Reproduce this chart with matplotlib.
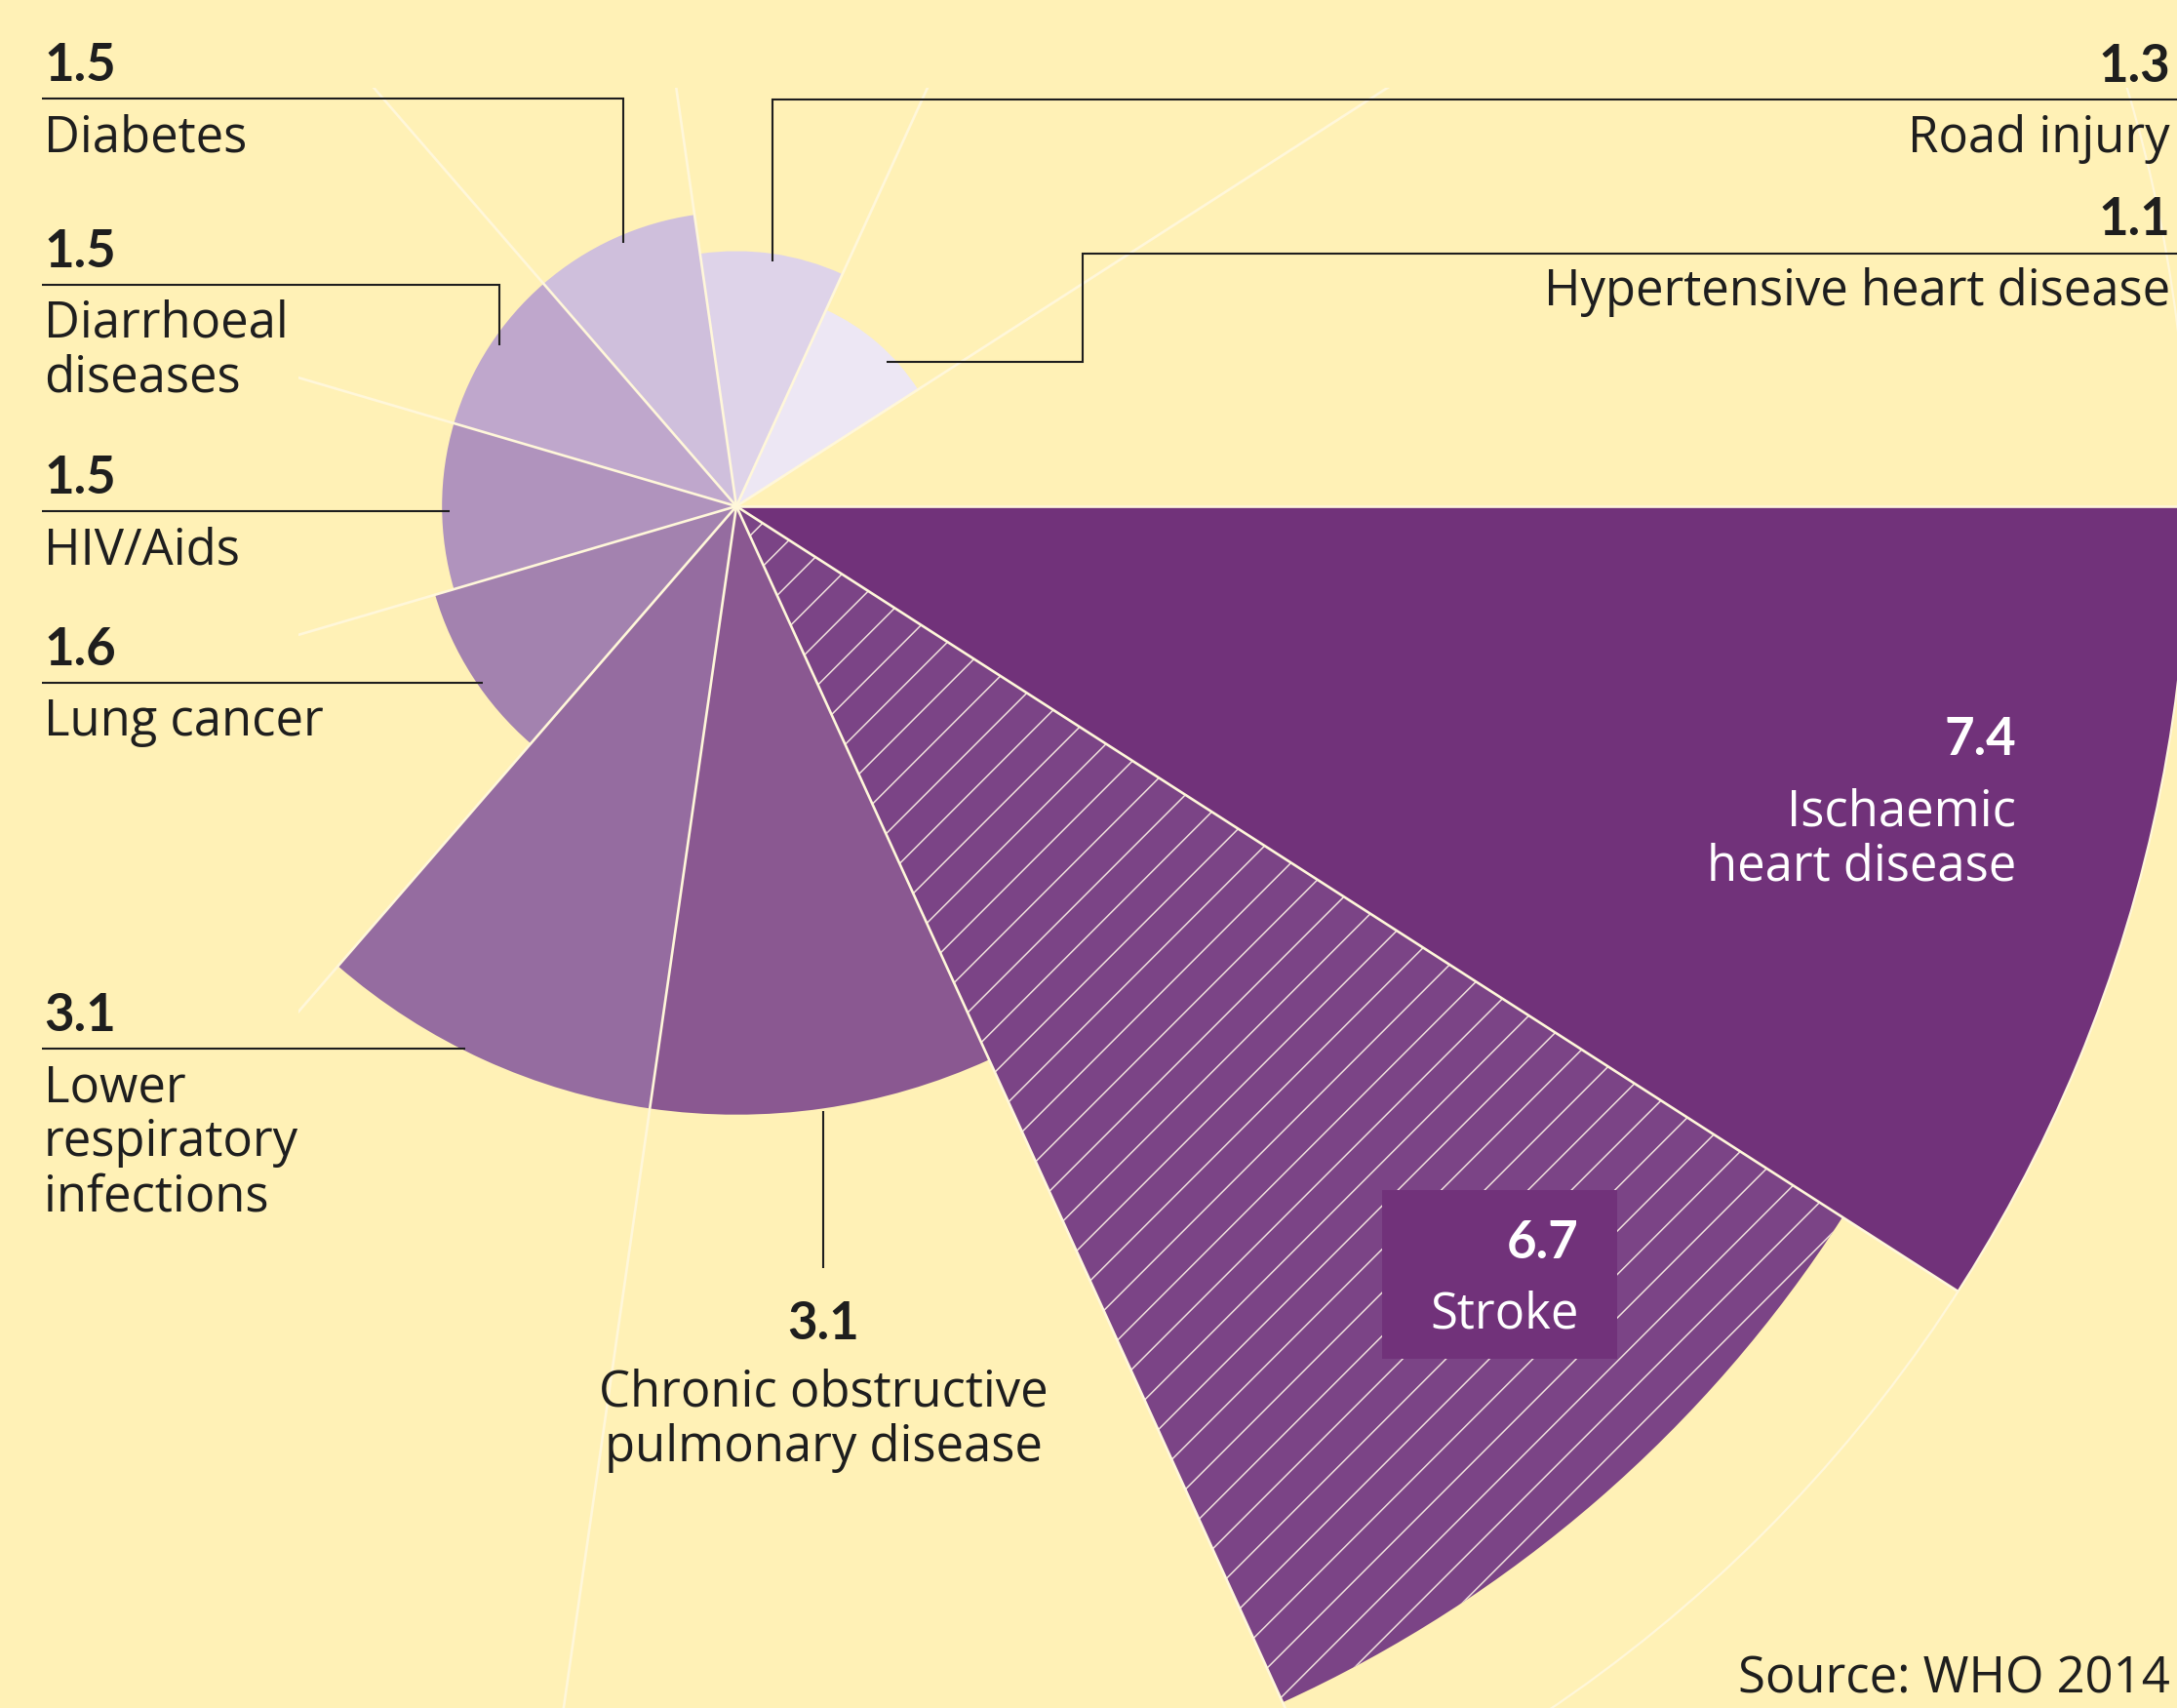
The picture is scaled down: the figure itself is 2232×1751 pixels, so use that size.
import numpy as np
import matplotlib
matplotlib.use("Agg")
import matplotlib.pyplot as plt
from matplotlib.lines import Line2D
from matplotlib.patches import Rectangle
from matplotlib.transforms import Bbox, TransformedBbox, IdentityTransform, TransformedPatchPath

# ---------------- data ----------------
causes = ["Ischaemic heart disease", "Stroke", "Chronic obstructive pulmonary disease",
          "Lower respiratory infections", "Lung cancer", "HIV/Aids",
          "Diarrhoeal diseases", "Diabetes", "Road injury", "Hypertensive heart disease"]
deaths = [7.4, 6.7, 3.1, 3.1, 1.6, 1.5, 1.5, 1.5, 1.3, 1.1]   # millions
value_labels = ["7.4", "6.7", "3.1", "3.1", "1.6", "1.5", "1.5", "1.5", "1.3", "1.1"]
label_lines = [["Ischaemic", "heart disease"], ["Stroke"],
               ["Chronic obstructive", "pulmonary disease"],
               ["Lower", "respiratory", "infections"], ["Lung cancer"], ["HIV/Aids"],
               ["Diarrhoeal", "diseases"], ["Diabetes"], ["Road injury"],
               ["Hypertensive heart disease"]]
n_slots = 11  # ten causes + one empty slot

# ---------------- style ----------------
colors = ["#71327A", "#7B4486", "#8A5891", "#956CA0", "#A382AF", "#B093BD",
          "#BFA7CC", "#CFBFDC", "#DED3E9", "#EDE7F4"]
BG = "#FFF1B6"
GRID = "#FFF7DA"
HATCH = "#EFDFDC"
INK = "#1E1E1E"
FONT_NUM = "Lato"
FONT_TXT = "Open Sans"
W, H, DPI = 2232, 1751, 100

fig = plt.figure(figsize=(W / DPI, H / DPI), dpi=DPI, facecolor=BG)

cx, cy = 755, H - 519           # centre of the rose in display pixels
px_per_unit = 201.2
rmax = max(deaths)
R = rmax * px_per_unit
ax = fig.add_axes([(cx - R) / W, (cy - R) / H, 2 * R / W, 2 * R / H], projection="polar")
ax.set_theta_zero_location("E")
ax.set_theta_direction(-1)
ax.set_facecolor("none")
ax.set_xticks([])
ax.set_yticks([])
ax.grid(False)

slot = 2 * np.pi / n_slots
theta = np.arange(len(deaths)) * slot
bars = ax.bar(theta, deaths, width=slot, align="edge", color=colors, linewidth=0, zorder=1)
ax.set_ylim(0, rmax)
ax.apply_aspect()

clipbox = TransformedBbox(Bbox.from_extents(306, -5, W + 5, H - 90), IdentityTransform())

# outer ring (at the largest value)
sp = ax.spines["polar"]
sp.set_color(GRID)
sp.set_linewidth(1.6)
sp.set_clip_on(True)
sp.set_clip_box(clipbox)
for k in ("start", "end", "inner"):
    if k in ax.spines:
        ax.spines[k].set_visible(False)

# hatch on the stroke wedge
hatch_clip = TransformedPatchPath(bars[1])
spacing, c0 = 44.5, -145.7
for k in range(-60, 20):
    c = c0 + k * spacing
    ln = Line2D([0, W], [c, W + c], transform=IdentityTransform(), color=HATCH,
                lw=1.1, zorder=2)
    ax.add_artist(ln)
    ln.set_clip_path(hatch_clip)

# radial separators
for t in np.arange(n_slots) * slot:
    ln, = ax.plot([t, t], [0, rmax], color=GRID, lw=1.9, solid_capstyle="butt", zorder=3)
    ln.set_clip_box(clipbox)


def anchor(i, theta_deg, inset=0.04):
    x, y = ax.transData.transform((np.deg2rad(theta_deg), deaths[i] - inset))
    return x, H - y


def leader(points):
    xs = [p[0] for p in points]
    ys = [H - p[1] for p in points]
    fig.add_artist(Line2D(xs, ys, transform=IdentityTransform(), color=INK, lw=1.5,
                          solid_capstyle="butt", solid_joinstyle="miter", zorder=5))


def txt(x, y, s, ha="left", bold=False, color=INK):
    fig.text(x / W, 1 - y / H, s, ha=ha, va="baseline", color=color,
             family=FONT_NUM if bold else FONT_TXT,
             fontsize=38 if bold else 36.5, fontweight="bold" if bold else "normal", zorder=7)


def block(i, x, num_y, ha="left", color=INK, gap=72, step=56):
    txt(x, num_y, value_labels[i], ha=ha, bold=True, color=color)
    for j, s in enumerate(label_lines[i]):
        txt(x, num_y + gap + j * step, s, ha=ha, color=color)


LX = 43
# left-hand labels: (index, leader y, anchor angle, elbow?)
left = [(7, 101, 246.8, True), (6, 292, 214.1, True), (5, 524, 179.0, False),
        (4, 700, 145.8, False), (3, 1075, 116.8, False)]
for i, ly, ang, elbow in left:
    axx, axy = anchor(i, ang)
    if elbow:
        leader([(LX, ly), (axx, ly), (axx, axy)])
    else:
        leader([(LX, ly), (axx, ly)])
    block(i, LX + 2, ly - 18)

# right-hand labels
RX = 2225
axx, axy = anchor(8, 278.4)
leader([(W, 102), (axx, 102), (axx, axy)])
block(8, RX, 84, ha="right")

axx, axy = anchor(9, 316.2)
leader([(W, 260), (1110, 260), (1110, axy), (axx, axy)])
block(9, RX, 241, ha="right")

# COPD
axx, axy = anchor(2, 81.8, inset=-0.015)
leader([(axx, axy), (axx, 1300)])
block(2, axx, 1373, ha="center", gap=69)

# labels inside the big wedges
block(0, 2067, 774, ha="right", color="white")
fig.add_artist(Rectangle((1417 / W, 1 - 1393 / H), (1658 - 1417) / W, (1393 - 1220) / H,
                         transform=fig.transFigure, color=colors[0], lw=0, zorder=6))
block(1, 1619, 1290, ha="right", color="white")

txt(RX, 1735, "Source: WHO 2014", ha="right")

fig.savefig("out.png", dpi=DPI, facecolor=BG)
